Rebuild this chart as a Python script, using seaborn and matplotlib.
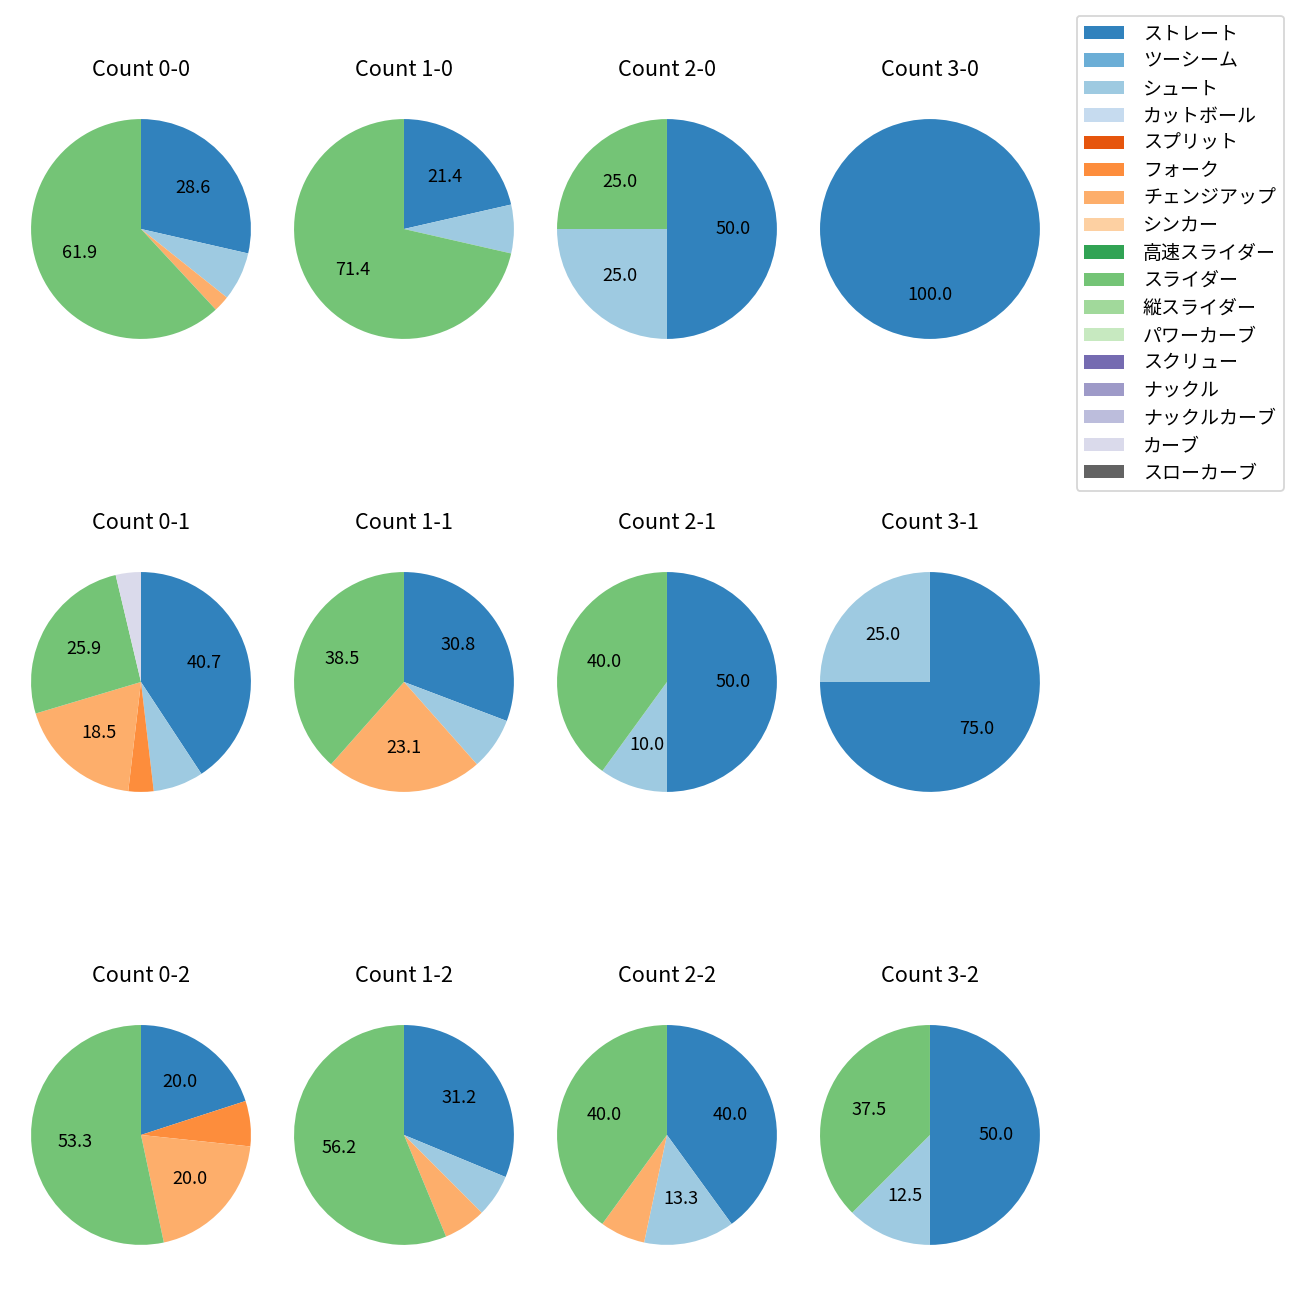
import pandas as pd
import seaborn as sns
import matplotlib.pyplot as plt
from matplotlib.patches import Patch

pitch_types = ['ストレート', 'ツーシーム', 'シュート', 'カットボール', 'スプリット', 'フォーク',
               'チェンジアップ', 'シンカー', '高速スライダー', 'スライダー', '縦スライダー',
               'パワーカーブ', 'スクリュー', 'ナックル', 'ナックルカーブ', 'カーブ', 'スローカーブ']

count_labels = ['0-0', '1-0', '2-0', '3-0',
                '0-1', '1-1', '2-1', '3-1',
                '0-2', '1-2', '2-2', '3-2']

# pitches thrown per count (pitch types not listed are zero)
straight = [12, 3, 2, 1, 11, 4, 5, 3, 3, 5, 6, 4]
shoot = [3, 1, 1, 0, 2, 1, 1, 1, 0, 1, 2, 1]
fork = [0, 0, 0, 0, 1, 0, 0, 0, 1, 0, 0, 0]
changeup = [1, 0, 0, 0, 5, 3, 0, 0, 3, 1, 1, 0]
slider = [26, 10, 1, 0, 7, 5, 4, 0, 8, 9, 6, 3]
curve = [0, 0, 0, 0, 1, 0, 0, 0, 0, 0, 0, 0]

df = pd.DataFrame(0, index=count_labels, columns=pitch_types)
df['ストレート'] = straight
df['シュート'] = shoot
df['フォーク'] = fork
df['チェンジアップ'] = changeup
df['スライダー'] = slider
df['カーブ'] = curve

plt.rcParams['font.family'] = ['Noto Sans CJK JP', 'DejaVu Sans']

colors = sns.color_palette('tab20c', 20)[:len(pitch_types)]
color_map = dict(zip(pitch_types, colors))


def pct_label(p):
    return f'{p:.1f}' if p >= 9.5 else ''


fig, axes = plt.subplots(3, 4, figsize=(10, 10), dpi=130)
fig.subplots_adjust(left=0.0073, right=0.8165, top=0.925, bottom=0.0258,
                    wspace=0, hspace=0.7224)

for ax, count in zip(axes.flat, count_labels):
    row = df.loc[count]
    row = row[row > 0]
    ax.pie(row.values, colors=[color_map[p] for p in row.index],
           startangle=90, counterclock=False, autopct=pct_label,
           radius=1.045, textprops={'fontsize': 10, 'color': 'black'})
    ax.set_title(f'Count {count}', fontsize=12, pad=12)

handles = [Patch(facecolor=color_map[p], label=p) for p in pitch_types]
fig.legend(handles=handles, loc='upper right', bbox_to_anchor=(0.9946, 0.9953),
           fontsize=10.5, labelspacing=0.34, handlelength=2.1, handletextpad=1.0)

plt.savefig('out.png')
